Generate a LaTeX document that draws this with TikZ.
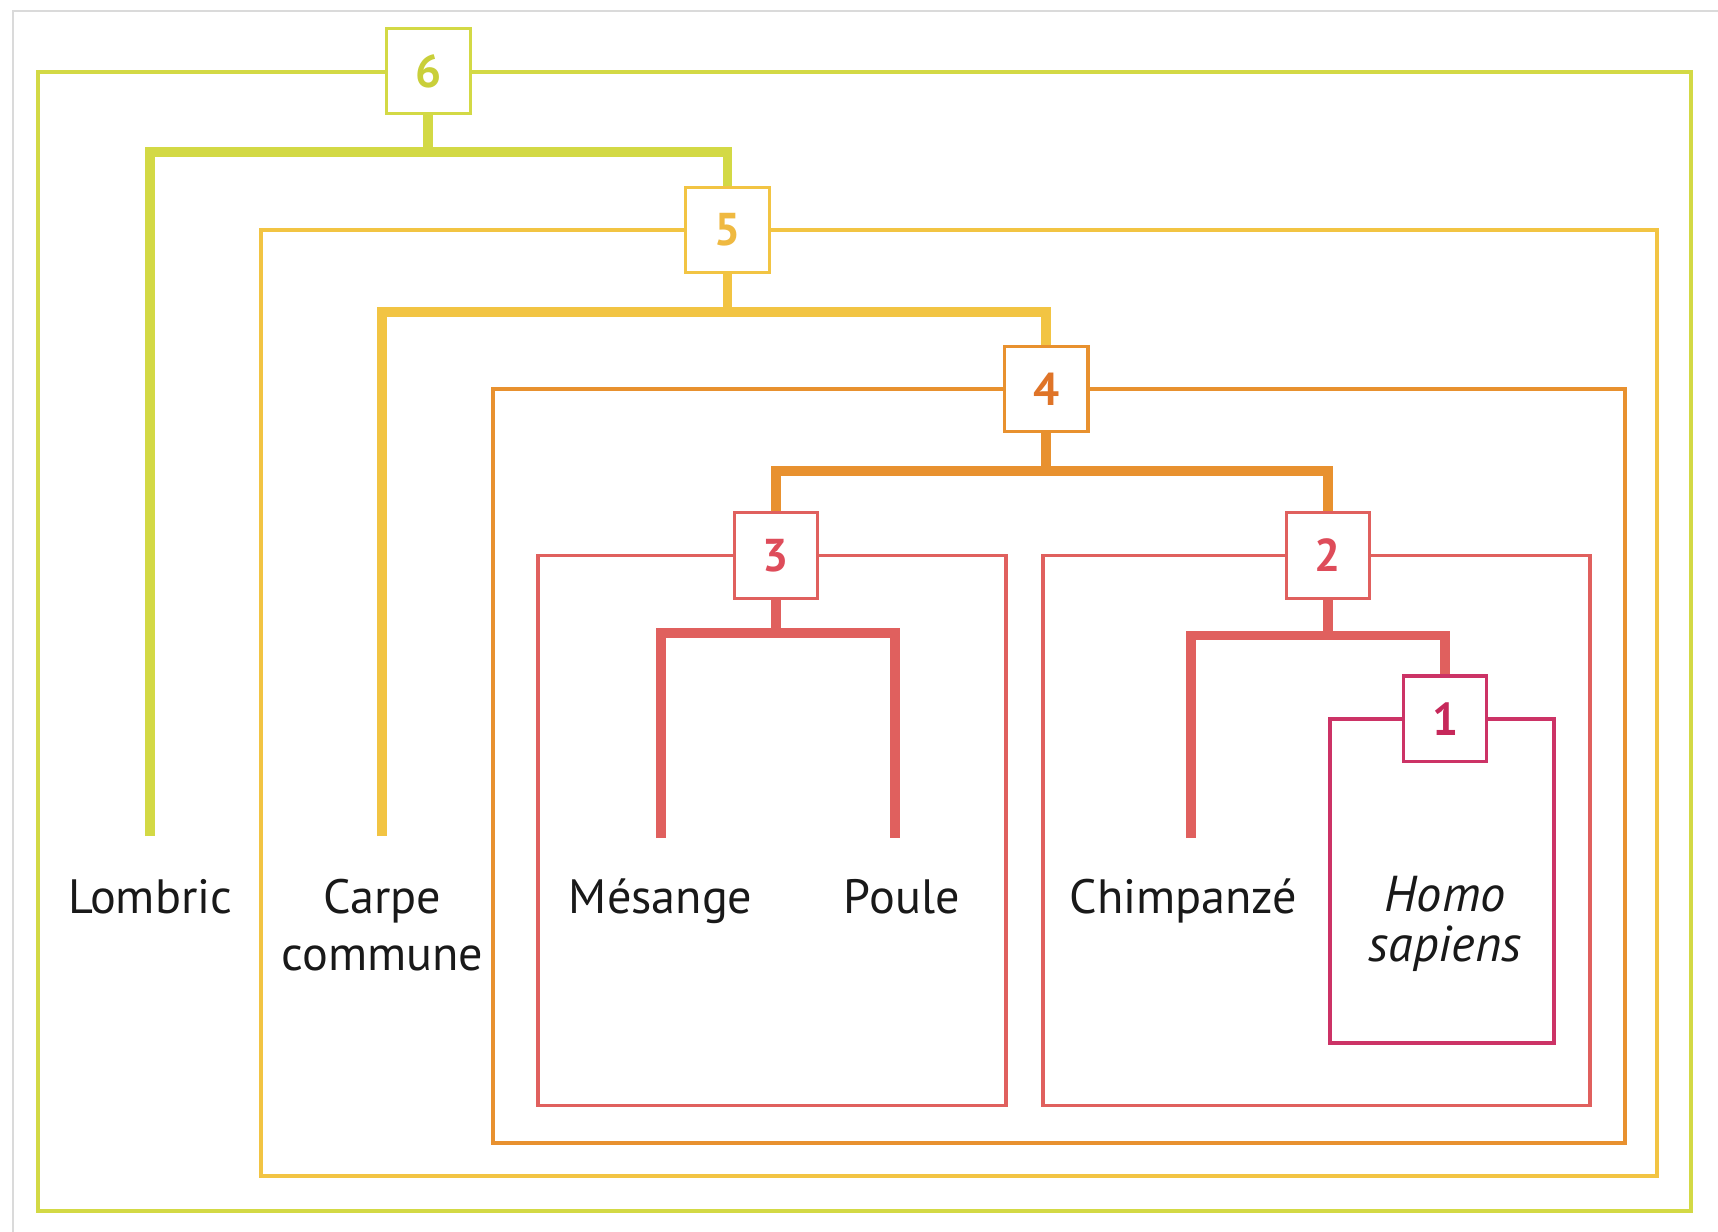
\documentclass[tikz,border=0pt]{standalone}
\usepackage{fontspec}
\setmainfont{PT Sans}
\definecolor{frameg}{HTML}{DADADA}
\definecolor{c6}{HTML}{D3D945}
\definecolor{c6t}{HTML}{C9CF3A}
\definecolor{c5}{HTML}{F2C443}
\definecolor{c5t}{HTML}{EFB941}
\definecolor{c4}{HTML}{E8912F}
\definecolor{c4t}{HTML}{DF7428}
\definecolor{c3}{HTML}{E0605E}
\definecolor{c3t}{HTML}{DE4C5A}
\definecolor{c1}{HTML}{CC3366}
\definecolor{c1t}{HTML}{C6285A}
\tikzset{
  clade/.style={draw=#1, line width=1.75pt},
  limb/.style={draw=#1, line width=4.5pt},
  tagbox/.style={draw=#1, fill=white, line width=1.4pt, minimum width=38pt,
    minimum height=39pt, inner sep=0pt,
    font=\fontsize{21}{21}\selectfont\bfseries},
  leaf/.style={font=\fontsize{22}{26}\selectfont, align=center, text=black!90},
  oneline/.style={leaf, anchor=base}
}
\begin{document}
\begin{tikzpicture}[x=0.5pt,y=-0.5pt]
\useasboundingbox (0,0) rectangle (1568,1124);
% page frame
\draw[frameg, line width=1pt] (12,1124) -- (12,10) -- (1568,10);

% nested clade boxes
\draw[clade=c6] (35,66) rectangle (1543,1105);
\draw[clade=c5] (238,210) rectangle (1512,1073);
\draw[clade=c4] (450,355) rectangle (1483,1043);
\draw[clade=c3] (491,507) rectangle (918,1009);
\draw[clade=c3] (952,507) rectangle (1451,1009);
\draw[clade=c1] (1214,656) rectangle (1418,952);

% numbered tags
\node[tagbox=c6, text=c6t] (n6) at (391,65) {6};
\node[tagbox=c5, text=c5t] (n5) at (664,210) {5};
\node[tagbox=c4, text=c4t] (n4) at (955,355) {4};
\node[tagbox=c3, text=c3t] (n3) at (708,507) {3};
\node[tagbox=c3, text=c3t] (n2) at (1212,507) {2};
\node[tagbox=c1, text=c1t] (n1) at (1319,656) {1};

% leaves
\node[oneline] (lom) at (137,834) {Lombric};
\node[leaf] (carp) at (349,844) {Carpe\\commune};
\node[oneline] (mes) at (603,834) {Mésange};
\node[oneline] (pou) at (823,834) {Poule};
\node[oneline] (chi) at (1080,834) {Chimpanzé};
\node[leaf, font=\fontsize{23}{23}\selectfont\itshape] (hom) at (1319,843) {Homo\\sapiens};

% branch tips
\coordinate (tlom) at (137,763);
\coordinate (tcarp) at (349,763);
\coordinate (tmes) at (603,765);
\coordinate (tpou) at (817,765);
\coordinate (tchi) at (1087,765);

% branches
\draw[limb=c6] (n6.south) -- (n6.south |- 0,139);
\draw[limb=c6] (tlom) |- (n6.south |- 0,139) -| (n5.north);
\draw[limb=c5] (n5.south) -- (n5.south |- 0,285);
\draw[limb=c5] (tcarp) |- (n5.south |- 0,285) -| (n4.north);
\draw[limb=c4] (n4.south) -- (n4.south |- 0,430);
\draw[limb=c4] (n3.north) |- (n4.south |- 0,430) -| (n2.north);
\draw[limb=c3] (n3.south) -- (n3.south |- 0,578);
\draw[limb=c3] (tmes) |- (n3.south |- 0,578) -| (tpou);
\draw[limb=c3] (n2.south) -- (n2.south |- 0,580);
\draw[limb=c3] (tchi) |- (n2.south |- 0,580) -| (n1.north);

% tags redrawn above the branch ends
\node[tagbox=c6, text=c6t] at (n6) {6};
\node[tagbox=c5, text=c5t] at (n5) {5};
\node[tagbox=c4, text=c4t] at (n4) {4};
\node[tagbox=c3, text=c3t] at (n3) {3};
\node[tagbox=c3, text=c3t] at (n2) {2};
\node[tagbox=c1, text=c1t] at (n1) {1};
\end{tikzpicture}
\end{document}
